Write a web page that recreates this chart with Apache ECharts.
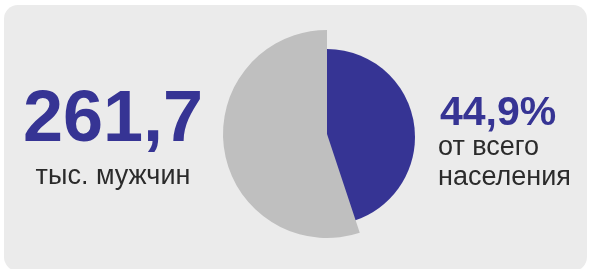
<!DOCTYPE html>
<html>
<head>
<meta charset="utf-8">
<script src="https://cdn.jsdelivr.net/npm/echarts@6/dist/echarts.min.js"></script>
<style>
  html, body { margin: 0; padding: 0; background: #fff; }
  #chart { width: 589px; height: 269px; }
</style>
</head>
<body>
<div id="chart"></div>
<script>
// данные
var categories = ['Мужчины', 'Остальное население'];
var shares = [44.9, 55.1];
var bigValue = '261,7';
var bigCaption = 'тыс. мужчин';
var shareLabel = '44,9%';
var shareCaption = ['от всего', 'населения'];

var blue = '#363494';
var grey = '#bfbfbf';
var font = '"Liberation Sans", Arial, sans-serif';

var chart = echarts.init(document.getElementById('chart'));

// внутренний сектор (мужчины) и внешний (остальные) — разные радиусы
var innerData = categories.map(function (name, i) {
  return {
    name: name, value: shares[i],
    itemStyle: { color: i === 0 ? blue : 'rgba(0,0,0,0)' }
  };
});
var outerData = categories.map(function (name, i) {
  return {
    name: name, value: shares[i],
    itemStyle: { color: i === 1 ? grey : 'rgba(0,0,0,0)' }
  };
});

var option = {
  animation: false,
  graphic: [
    {
      type: 'rect', z: -10, silent: true,
      shape: { x: 4, y: 5, width: 583, height: 266, r: 14 },
      style: { fill: '#ebebeb' }
    },
    {
      type: 'text', x: 113, y: 121,
      style: { text: bigValue, font: 'bold 72px ' + font, fill: blue, textAlign: 'center', textVerticalAlign: 'middle' }
    },
    {
      type: 'text', x: 113, y: 177,
      style: { text: bigCaption, font: '27px ' + font, fill: '#2b2b2b', textAlign: 'center', textVerticalAlign: 'middle' }
    },
    {
      type: 'text', x: 440, y: 114,
      style: { text: shareLabel, font: 'bold 41px ' + font, fill: blue, textAlign: 'left', textVerticalAlign: 'middle' }
    },
    {
      type: 'text', x: 438, y: 148,
      style: { text: shareCaption[0], font: '27px ' + font, fill: '#2b2b2b', textAlign: 'left', textVerticalAlign: 'middle' }
    },
    {
      type: 'text', x: 438, y: 178,
      style: { text: shareCaption[1], font: '27px ' + font, fill: '#2b2b2b', textAlign: 'left', textVerticalAlign: 'middle' }
    }
  ],
  series: [
    {
      type: 'pie', silent: true,
      center: [327, 137], radius: 88,
      startAngle: 90, clockwise: true,
      label: { show: false }, labelLine: { show: false },
      data: innerData
    },
    {
      type: 'pie', silent: true,
      center: [327, 134], radius: 104,
      startAngle: 90, clockwise: true,
      label: { show: false }, labelLine: { show: false },
      data: outerData
    }
  ]
};

chart.setOption(option);
</script>
</body>
</html>
